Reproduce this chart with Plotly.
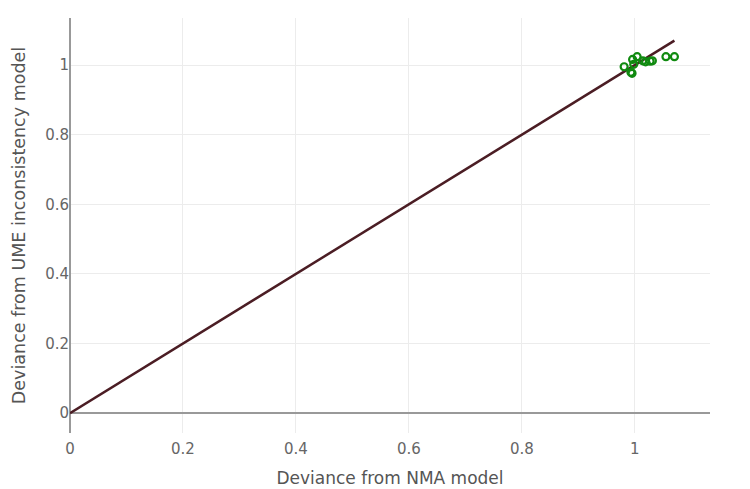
import plotly.graph_objects as go

nma_dev = [0.981, 0.993, 0.995, 0.996, 1.004, 0.998, 1.014, 1.019, 1.027, 1.031, 1.055, 1.070]
ume_dev = [0.995, 0.979, 0.976, 1.016, 1.024, 1.002, 1.012, 1.009, 1.011, 1.012, 1.024, 1.024]
line_x = [0, 1.070]
line_y = [0, 1.070]

fig = go.Figure()
fig.add_trace(go.Scatter(x=line_x, y=line_y, mode="lines",
                         line=dict(color="#4b1d24", width=2.5), showlegend=False, hoverinfo="skip"))
fig.add_trace(go.Scatter(x=nma_dev, y=ume_dev, mode="markers",
                         marker=dict(symbol="circle-open", size=7, color="#108a10", line=dict(width=2.2)),
                         showlegend=False))

axis_common = dict(showgrid=True, gridcolor="#ececec", gridwidth=1, zeroline=True,
                   zerolinecolor="#999999", zerolinewidth=2, showline=False, automargin=False,
                   tickfont=dict(size=15, color="#666"), dtick=0.2, tickformat="~g")
fig.update_layout(
    width=750, height=489,
    margin=dict(l=70, r=40, t=18, b=56),
    plot_bgcolor="white", paper_bgcolor="white",
    font=dict(family="DejaVu Sans, Verdana, sans-serif", color="#555"),
    xaxis=dict(range=[0, 1.133], ticks="outside", ticklen=2, tickcolor="rgba(0,0,0,0)",
               title=dict(text="Deviance from NMA model", font=dict(size=17)), **axis_common),
    yaxis=dict(range=[-0.057, 1.135],
               title=dict(text="Deviance from UME inconsistency model", font=dict(size=17.5)), **axis_common),
)
fig.write_html("out.html")
